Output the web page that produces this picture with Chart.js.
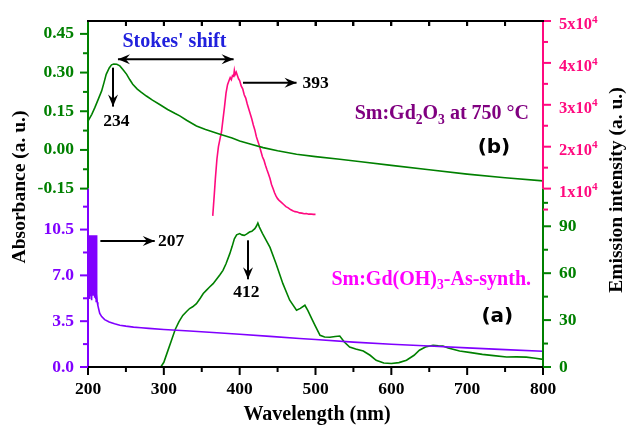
<!DOCTYPE html>
<html><head><meta charset="utf-8">
<script src="https://cdn.jsdelivr.net/npm/chart.js@4.4.1/dist/chart.umd.min.js"></script>
<style>
html,body{margin:0;padding:0;background:#fff}
#wrap{position:relative;width:628px;height:427px}
#wrap canvas{position:absolute;left:0;top:0}
.fr{position:absolute;background:#000;pointer-events:none}
</style>
</head><body>
<div id="wrap"><canvas id="c" width="628" height="427"></canvas></div>
<script>
const absTopWl = [200,205,209,214,218,221,224,228,231,234,238,242,246,251,255,259,265,270,277,285,294,305,315,321,330,343,355,374,390,400,415,431,450,475,500,532,560,600,650,700,750,800];
const absTopVal = [0.112,0.138,0.164,0.2,0.229,0.26,0.293,0.318,0.33,0.333,0.332,0.326,0.312,0.293,0.273,0.255,0.236,0.224,0.209,0.193,0.177,0.157,0.141,0.132,0.115,0.093,0.079,0.061,0.046,0.035,0.022,0.009,-0.003,-0.017,-0.026,-0.036,-0.046,-0.06,-0.077,-0.094,-0.108,-0.12];
const emTopWl = [364.5,365.5,366.5,368,370,372,374,376,378,380,382,384,386,387.5,389,390.5,392,393,394,395.5,397,398.5,400,402,404,406,408,410,412,414,416,418,420,422,424,426,428,430,432,434,436,438,440,442,444,446,448,450,452,455,458,461,464,467,470,473,476,479,482,485,488,491,494,497,500];
const emTopVal = [3500,6000,8500,12500,17000,20000,21800,23500,26500,29500,32800,34800,35800,36500,36000,37000,36800,38200,37200,37800,37000,36200,35800,34500,33800,32400,31600,30200,29000,27800,26600,25200,24000,22400,21300,20200,18900,17600,16800,15600,14500,13500,12400,11000,10000,9000,8200,7600,7200,6700,6200,5700,5400,5000,4700,4500,4400,4200,4150,4000,4050,3900,3950,3850,3850];
const absBotWl = [200,200.4,200.8,201.2,201.6,202,202.4,202.8,203.2,203.6,204,204.4,204.8,205.2,205.6,206,206.4,206.8,207.2,207.6,208,208.4,208.8,209.2,209.6,210,210.4,210.8,211.2,211.6,212.2,213,214,215.5,218,222,228,235,242,250,260,270,280,300,334,370,400,440,479,500,550,600,650,700,750,800];
const absBotVal = [10.06,5.3,10.06,5.6,10.06,5.2,10.06,6.0,10.06,5.4,10.06,5.8,10.06,5.1,10.06,6.2,10.06,5.5,10.06,5.9,10.06,5.3,10.06,6.4,10.06,5.2,10.06,5.0,10.06,5.6,4.95,4.7,4.45,4.1,3.85,3.62,3.44,3.3,3.19,3.12,3.05,3.0,2.95,2.87,2.75,2.62,2.5,2.34,2.18,2.1,1.9,1.74,1.6,1.46,1.33,1.2];
const emBotWl = [296,300,305,310,315,320,325,330,334,338,343,348,352,356,360,365,370,374,378,382,387,390,393,396,400,403,406,409,413,416,420,422,424,426,430,435,440,448,457,466,475,480,486,490,495,500,506,512,519,526,532,538,545,553,563,572,580,590,600,610,620,630,637,645,655,662,668,675,690,705,720,735,752,765,778,790,800];
const emBotVal = [0,3,10,17,24,29,33,35.5,37.4,38.5,40.5,44,47,49,51,53.3,56.5,59,61.8,66,72.5,77,82,84.5,85.3,84.5,84.2,85,86.3,86.8,88.5,90,92.1,89.5,85.5,81,76.5,66.1,53.3,42.7,36.3,37.5,39.5,36,31,26,20.3,19.2,19,19.5,19.8,16,12.8,11.5,10.2,7.5,4.3,2.6,2.2,2.8,4.3,7.5,10.7,12.8,13.9,13.5,13.4,12.2,10.2,9.2,8.1,7.3,6.4,6.5,6.3,5.6,4.9];
const xTickLabels = [200,300,400,500,600,700,800];
const absTopTicks = [-0.15,0.00,0.15,0.30,0.45];
const emTopTicks = [1,2,3,4,5];
const absBotTicks = [0.0,3.5,7.0,10.5];
const emBotTicks = [0,30,60,90];

const GREEN = '#008000', PINK = '#ff0a7f', PURPLE = '#8000ff';
const SERIF = "'Liberation Serif','Times New Roman',serif";
const tickFont = {family: SERIF, size: 17.5, weight: 'bold'};
const near = (a, b) => Math.abs(a - b) < 1e-6;
const inList = (v, list) => list.some(t => near(t, v));
const mult = (v, s) => Math.abs(v / s - Math.round(v / s)) < 1e-6;
const pts = (xs, ys) => xs.map((x, i) => ({x, y: ys[i]}));

function arrowHead(ctx, x, y, ang) {
  const HL = 12, HW = 5;
  ctx.save(); ctx.translate(x, y); ctx.rotate(ang);
  ctx.beginPath(); ctx.moveTo(0, 0); ctx.lineTo(-HL, -HW); ctx.lineTo(-HL * 0.65, 0); ctx.lineTo(-HL, HW);
  ctx.closePath(); ctx.fill(); ctx.restore();
}
function arrow(ctx, x1, y1, x2, y2, both) {
  ctx.strokeStyle = '#000'; ctx.fillStyle = '#000'; ctx.lineWidth = 2;
  const ang = Math.atan2(y2 - y1, x2 - x1);
  ctx.beginPath(); ctx.moveTo(x1, y1); ctx.lineTo(x2, y2); ctx.stroke();
  arrowHead(ctx, x2, y2, ang);
  if (both) arrowHead(ctx, x1, y1, ang + Math.PI);
}
function rich(ctx, parts, x, y, size, color, family) {
  ctx.fillStyle = color; ctx.textBaseline = 'middle'; ctx.textAlign = 'left';
  let cx = x;
  for (const p of parts) {
    const sz = p.s ? size * 0.68 : size;
    ctx.font = `bold ${sz}px ${family}`;
    const dy = p.s === -1 ? size * 0.32 : (p.s === 1 ? -size * 0.32 : 0);
    ctx.fillText(p.t, cx, y + dy);
    cx += ctx.measureText(p.t).width;
  }
}
function hseg(ctx, x1, x2, y, color, w) { ctx.fillStyle = color; ctx.fillRect(Math.min(x1, x2), y - w / 2, Math.abs(x2 - x1), w); }
function vseg(ctx, x, y1, y2, color, w) { ctx.fillStyle = color; ctx.fillRect(x - w / 2, Math.min(y1, y2), w, Math.abs(y2 - y1)); }

// top frame line and its inward ticks as an overlay, positioned from the chart's own scales
function addTopFrame(chart) {
  const wrap = document.getElementById('wrap');
  wrap.querySelectorAll('.fr').forEach(e => e.remove());
  const xs = chart.scales.x, top = chart.scales.yA.top;
  const mk = (l, t, w, h) => {
    const d = document.createElement('div'); d.className = 'fr';
    d.style.left = l + 'px'; d.style.top = t + 'px'; d.style.width = w + 'px'; d.style.height = h + 'px';
    wrap.appendChild(d);
  };
  mk(Math.round(xs.left) - 1, Math.round(top) - 1, Math.round(xs.right - xs.left) + 2, 2);
  xs.ticks.forEach(t => {
    if (!mult(t.value, 50) || t.value <= 200 || t.value >= 800) return;
    mk(Math.round(xs.getPixelForValue(t.value)) - 1, Math.round(top), 2, 5);
  });
}

const deco = {
  id: 'deco',
  afterDraw(chart) {
    const ctx = chart.ctx;
    const s = chart.scales;
    const xs = s.x, yA = s.yA, yP = s.yP, yB = s.yB, yG = s.yG;
    const left = xs.left, right = xs.right, frameTop = yA.top, bottom = yB.bottom;
    ctx.save();
    hseg(ctx, left - 1, right + 1, frameTop, '#000', 2);
    vseg(ctx, left, yA.top - 1, yA.bottom, GREEN, 2);
    vseg(ctx, left, yB.top, yB.bottom + 1, PURPLE, 2);
    vseg(ctx, right, yP.top - 1, yP.bottom, PINK, 2);
    vseg(ctx, right, yG.top, yG.bottom + 1, GREEN, 2);
    hseg(ctx, left - 1, right + 1, bottom, '#000', 2);
    xs.ticks.forEach(t => {
      if (!mult(t.value, 50)) return;
      const px = xs.getPixelForValue(t.value);
      const major = mult(t.value, 100);
      vseg(ctx, px, bottom, bottom + (major ? 8 : 5), '#000', 2);
      if (t.value > 200 && t.value < 800) vseg(ctx, px, frameTop, frameTop + 5, '#000', 2);
    });
    const yt = (scale, xpos, dir, minor, major, color) => {
      scale.ticks.forEach(t => {
        if (!mult(t.value, minor)) return;
        const py = scale.getPixelForValue(t.value);
        const len = mult(t.value, major) ? 8 : 5;
        hseg(ctx, xpos, xpos + dir * len, py, color, 2);
      });
    };
    yt(yA, left, -1, 0.075, 0.15, GREEN);
    yt(yB, left, -1, 1.75, 3.5, PURPLE);
    yt(yP, right, 1, 5000, 10000, PINK);
    yt(yG, right, 1, 15, 30, GREEN);
    const p5 = yP.getPixelForValue(5000);
    hseg(ctx, right, right + 5, p5, PINK, 2);
    emTopTicks.forEach(n => {
      const py = yP.getPixelForValue(n * 1e4);
      rich(ctx, [{t: n + 'x10', s: 0}, {t: '4', s: 1}], right + 16, py + 4, 16.5, PINK, SERIF);
    });
    ctx.fillStyle = '#000'; ctx.textAlign = 'center'; ctx.textBaseline = 'middle';
    ctx.font = `bold 19.5px ${SERIF}`;
    ctx.save(); ctx.translate(20, 187); ctx.rotate(-Math.PI / 2); ctx.fillText('Absorbance (a. u.)', 0, 0); ctx.restore();
    ctx.save(); ctx.translate(617, 190); ctx.rotate(-Math.PI / 2); ctx.fillText('Emission intensity (a. u.)', 0, 0); ctx.restore();
    ctx.font = `bold 20px ${SERIF}`;
    ctx.fillText('Wavelength (nm)', 317, 415);

    const X = v => xs.getPixelForValue(v);
    ctx.font = `bold 20px ${SERIF}`; ctx.fillStyle = '#2020dd'; ctx.textAlign = 'center';
    ctx.fillText("Stokes' shift", X(314), yA.getPixelForValue(0.42));
    arrow(ctx, X(239.5), yA.getPixelForValue(0.352), X(392), yA.getPixelForValue(0.352), true);
    arrow(ctx, X(233), yA.getPixelForValue(0.319), X(233), yA.getPixelForValue(0.168), false);
    ctx.fillStyle = '#000'; ctx.font = `bold 17.5px ${SERIF}`; ctx.textAlign = 'center';
    ctx.fillText('234', X(237.4), yA.getPixelForValue(0.112));
    arrow(ctx, X(404.4), yA.getPixelForValue(0.261), X(475), yA.getPixelForValue(0.261), false);
    ctx.fillStyle = '#000'; ctx.font = `bold 17.5px ${SERIF}`; ctx.textAlign = 'left';
    ctx.fillText('393', X(482.7), yA.getPixelForValue(0.259));
    rich(ctx, [{t: 'Sm:Gd', s: 0}, {t: '2', s: -1}, {t: 'O', s: 0}, {t: '3', s: -1}, {t: ' at 750 \u00B0C', s: 0}],
      X(551.6), yA.getPixelForValue(0.14), 20, '#800080', SERIF);
    ctx.fillStyle = '#000'; ctx.font = "bold 20px 'DejaVu Sans',sans-serif"; ctx.textAlign = 'left'; ctx.textBaseline = 'middle';
    ctx.fillText('(b)', X(713.8), yA.getPixelForValue(0.009));

    arrow(ctx, X(216.3), yB.getPixelForValue(9.63), X(288), yB.getPixelForValue(9.63), false);
    ctx.fillStyle = '#000'; ctx.font = `bold 17.5px ${SERIF}`; ctx.textAlign = 'left'; ctx.textBaseline = 'middle';
    ctx.fillText('207', X(292.3), yB.getPixelForValue(9.6));
    arrow(ctx, X(411), yB.getPixelForValue(9.68), X(411), yB.getPixelForValue(6.7), false);
    ctx.fillStyle = '#000'; ctx.font = `bold 17.5px ${SERIF}`; ctx.textAlign = 'center'; ctx.textBaseline = 'middle';
    ctx.fillText('412', X(408.8), yB.getPixelForValue(5.73));
    rich(ctx, [{t: 'Sm:Gd(OH)', s: 0}, {t: '3', s: -1}, {t: '-As-synth.', s: 0}],
      X(521), yB.getPixelForValue(6.68), 20, '#ff00ff', SERIF);
    ctx.fillStyle = '#000'; ctx.font = "bold 20px 'DejaVu Sans',sans-serif"; ctx.textAlign = 'left'; ctx.textBaseline = 'middle';
    ctx.fillText('(a)', X(718.8), yB.getPixelForValue(3.82));
    ctx.restore();
  }
};

const noGrid = {display: false, drawTicks: false};
const noBorder = {display: false};
const fitW = w => sc => { sc.width = w; sc.paddingTop = 0; sc.paddingBottom = 0; };

const chart = new Chart(document.getElementById('c'), {
  type: 'scatter',
  data: {
    datasets: [
      {data: pts(absBotWl, absBotVal), yAxisID: 'yB', borderColor: PURPLE, borderWidth: 1.6, showLine: true, pointRadius: 0, tension: 0},
      {data: pts(emBotWl, emBotVal), yAxisID: 'yG', borderColor: GREEN, borderWidth: 1.6, showLine: true, pointRadius: 0, tension: 0},
      {data: pts(absTopWl, absTopVal), yAxisID: 'yA', borderColor: GREEN, borderWidth: 1.6, showLine: true, pointRadius: 0, tension: 0},
      {data: pts(emTopWl, emTopVal), yAxisID: 'yP', borderColor: PINK, borderWidth: 1.6, showLine: true, pointRadius: 0, tension: 0, clip: false}
    ]
  },
  options: {
    responsive: false, animation: false, events: [],
    layout: {padding: {top: 21, left: 0, right: 0, bottom: 0}},
    plugins: {legend: {display: false}, tooltip: {enabled: false}, title: {display: false}},
    scales: {
      x: {type: 'linear', position: 'bottom', min: 200, max: 800, grid: noGrid, border: noBorder,
        ticks: {stepSize: 50, autoSkip: false, includeBounds: false, maxRotation: 0, padding: 12, font: tickFont, color: '#000',
          callback: v => inList(v, xTickLabels) ? String(Math.round(v)) : ''},
        afterFit: sc => { sc.height = 60; sc.paddingLeft = 0; sc.paddingRight = 0; }},
      yB: {type: 'linear', position: 'left', stack: 'L', stackWeight: 178.4, min: 0, max: 13.63, grid: noGrid, border: noBorder,
        ticks: {stepSize: 1.75, autoSkip: false, includeBounds: false, padding: 14, font: tickFont, color: PURPLE,
          callback: v => inList(v, absBotTicks) ? v.toFixed(1) : ''},
        afterFit: fitW(88)},
      yA: {type: 'linear', position: 'left', stack: 'L', stackWeight: 167.6, min: -0.15, max: 0.5, grid: noGrid, border: noBorder,
        ticks: {stepSize: 0.075, autoSkip: false, includeBounds: false, padding: 14, font: tickFont, color: GREEN,
          callback: v => inList(v, absTopTicks) ? v.toFixed(2) : ''},
        afterFit: fitW(88)},
      yP: {type: 'linear', position: 'right', stack: 'R', stackWeight: 167.6, min: 10000, max: 50000, grid: noGrid, border: noBorder,
        ticks: {stepSize: 5000, autoSkip: false, includeBounds: false, padding: 16, font: tickFont, color: PINK, callback: () => ''},
        afterFit: fitW(85)},
      yG: {type: 'linear', position: 'right', stack: 'R', stackWeight: 178.4, min: 0, max: 114.1, grid: noGrid, border: noBorder,
        ticks: {stepSize: 15, autoSkip: false, includeBounds: false, padding: 16, font: tickFont, color: GREEN,
          callback: v => inList(v, emBotTicks) ? String(Math.round(v)) : ''},
        afterFit: fitW(85)}
    }
  },
  plugins: [deco]
});
addTopFrame(chart);
</script>
</body></html>
